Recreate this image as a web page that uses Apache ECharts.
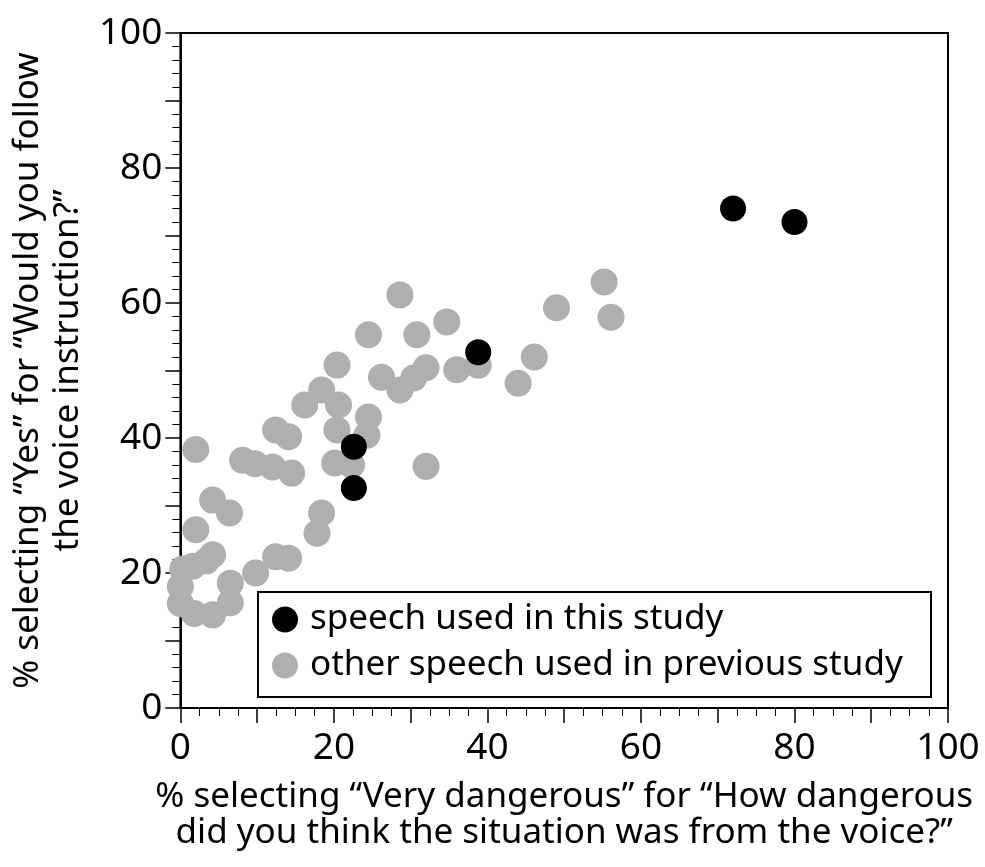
<!DOCTYPE html>
<html>
<head>
<meta charset="utf-8">
<script src="https://cdn.jsdelivr.net/npm/echarts@6/dist/echarts.min.js"></script>
<style>
  html, body { margin: 0; padding: 0; background: #fff; }
  #chart { width: 985px; height: 867px; }
</style>
</head>
<body>
<div id="chart"></div>
<script>
// speech used in this study (black)
var thisStudy = [
  [72, 74], [80, 72], [38.8, 52.7], [22.6, 38.7], [22.6, 32.6]
];

// other speech used in previous study (gray)
var prevStudy = [
  [28.6, 61.2], [34.7, 57.2], [24.5, 55.3], [30.8, 55.3], [20.4, 50.8],
  [26.2, 49], [28.6, 47.1], [30.4, 48.9], [32, 50.4], [36, 50.1],
  [38.8, 50.8], [49, 59.3], [55.2, 63.1], [56.1, 57.9], [46.1, 52],
  [44, 48.1], [18.4, 47.1], [16.2, 44.9], [20.6, 44.9], [24.5, 43.1],
  [20.4, 41.2], [24.3, 40.4], [12.4, 41.2], [14.1, 40.2], [2, 38.3],
  [20.1, 36.3], [22.3, 36], [8.1, 36.7], [9.7, 36.2], [12, 35.7],
  [14.5, 34.8], [32, 35.8], [4.2, 30.8], [6.4, 28.9], [2, 26.4],
  [18.4, 28.9], [17.8, 25.9], [4.2, 22.7], [12.4, 22.4], [14.1, 22.2],
  [9.8, 20],
  [0.3, 20.6], [0, 18], [0, 15.5], [1.8, 14], [4.2, 13.8],
  [6.5, 15.6], [6.5, 18.5], [3.4, 21.8], [1.6, 21]
];

var seriesNames = ['speech used in this study', 'other speech used in previous study'];
var xTitle = '% selecting \u201cVery dangerous\u201d for \u201cHow dangerous\ndid you think the situation was from the voice?\u201d';
var yTitle = '% selecting \u201cYes\u201d for \u201cWould you follow\nthe voice instruction?\u201d';

var FONT = 'Noto Sans';
var chart = echarts.init(document.getElementById('chart'), null, { renderer: 'canvas' });

function labelEvery20(v) {
  return v % 20 === 0 ? String(v) : '';
}

chart.setOption({
  animation: false,
  backgroundColor: '#ffffff',
  grid: {
    left: 178, right: 37, top: 33, bottom: 159,
    show: true, borderColor: '#000', borderWidth: 2, backgroundColor: 'transparent'
  },
  xAxis: {
    type: 'value', min: 0, max: 100, interval: 10,
    axisLine: { show: true, lineStyle: { color: '#000', width: 2 } },
    axisTick: { show: true, inside: false, length: 15, lineStyle: { color: '#000', width: 1.5 } },
    minorTick: { show: true, splitNumber: 4, length: 8, lineStyle: { color: '#000', width: 1 } },
    splitLine: { show: false },
    axisLabel: { formatter: labelEvery20, color: '#000', fontFamily: FONT, fontSize: 37, margin: 22 },
    name: xTitle, nameLocation: 'middle', nameGap: 71,
    nameTextStyle: { color: '#000', fontFamily: FONT, fontSize: 35, lineHeight: 36, align: 'center' }
  },
  yAxis: {
    type: 'value', min: 0, max: 100, interval: 10,
    axisLine: { show: true, lineStyle: { color: '#000', width: 2 } },
    axisTick: { show: true, inside: false, length: 15, lineStyle: { color: '#000', width: 1.5 } },
    minorTick: { show: true, splitNumber: 5, length: 8, lineStyle: { color: '#000', width: 1 } },
    splitLine: { show: false },
    axisLabel: { formatter: labelEvery20, color: '#000', fontFamily: FONT, fontSize: 37, margin: 18 },
    name: yTitle, nameLocation: 'middle', nameRotate: 90, nameGap: 92,
    nameTextStyle: { color: '#000', fontFamily: FONT, fontSize: 35, lineHeight: 40, align: 'center' }
  },
  legend: {
    data: seriesNames,
    orient: 'vertical',
    left: 272, top: 602, padding: 0,
    itemWidth: 40, itemHeight: 26, itemGap: 11,
    icon: 'circle',
    textStyle: { color: '#000', fontFamily: FONT, fontSize: 35 }
  },
  graphic: [{
    type: 'rect',
    shape: { x: 258, y: 592, width: 673, height: 105 },
    style: { fill: 'none', stroke: '#000', lineWidth: 2 },
    z: 100
  }],
  series: [
    {
      name: seriesNames[1], type: 'scatter', data: prevStudy,
      symbolSize: 27, itemStyle: { color: '#afafaf', opacity: 1 }, z: 2
    },
    {
      name: seriesNames[0], type: 'scatter', data: thisStudy,
      symbolSize: 26, itemStyle: { color: '#000000', opacity: 1 }, z: 3
    }
  ]
});
</script>
</body>
</html>
